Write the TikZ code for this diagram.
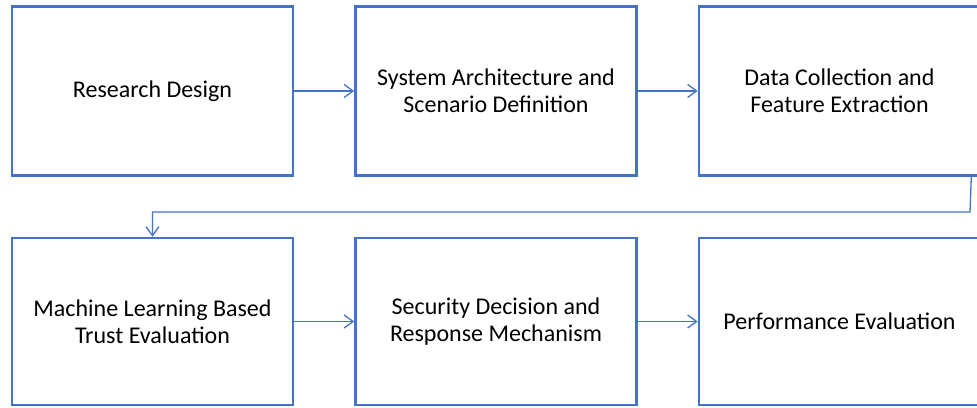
\documentclass[tikz,border=0pt]{standalone}
\usepackage{fontspec}
\setmainfont{Carlito}
\usetikzlibrary{arrows.meta}
\definecolor{boxblue}{RGB}{68,114,196}
\definecolor{linkblue}{RGB}{68,114,196}
\begin{document}
\begin{tikzpicture}[x=1pt,y=-1pt,
  stage/.style={draw=boxblue,line width=2.6pt,minimum width=281pt,minimum height=169pt,
    align=center,inner sep=0pt,font=\fontsize{24}{27}\selectfont,text=black},
  conn/.style={draw=linkblue,line width=1.3pt,-{Straight Barb[length=9pt,width=13pt,line width=1.3pt]}}]
\useasboundingbox (0,0) rectangle (977,407);
\node[stage] (b1) at (152.5,91) {Research Design};
\node[stage] (b2) at (496,91) {System Architecture and\\Scenario Definition};
\node[stage] (b3) at (839.5,91) {Data Collection and\\Feature Extraction};
\node[stage,minimum height=167pt] (b4) at (152.5,321.5) {Machine Learning Based\\Trust Evaluation};
\node[stage,minimum height=167pt] (b5) at (496,321.5) {Security Decision and\\Response Mechanism};
\node[stage,minimum height=167pt] (b6) at (839.5,321.5) {Performance Evaluation};
\draw[conn] (b1) -- (b2);
\draw[conn] (b2) -- (b3);
\draw[conn] (b4) -- (b5);
\draw[conn] (b5) -- (b6);
\coordinate (s) at ([xshift=-10pt]b3.south east);
\coordinate (m) at (970,212);
\draw[conn] (s) -- (m) -| (b4.north);
\end{tikzpicture}
\end{document}
